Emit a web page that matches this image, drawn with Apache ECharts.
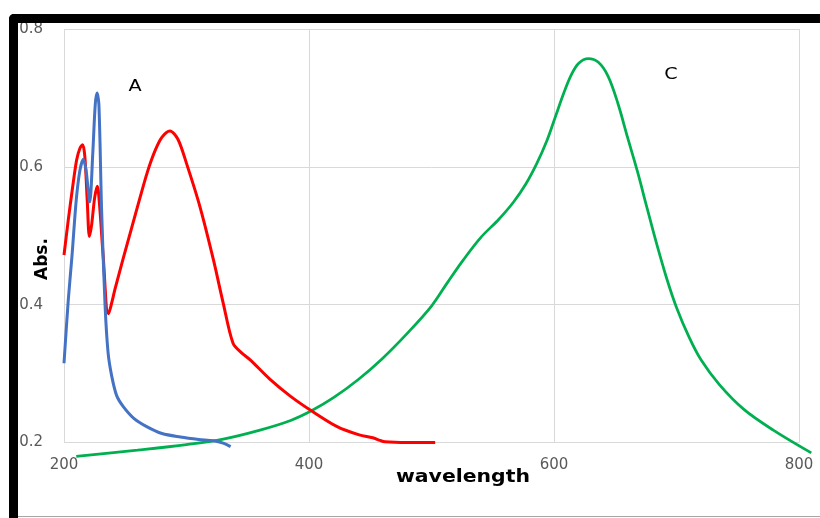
<!DOCTYPE html>
<html>
<head>
<meta charset="utf-8">
<script src="https://cdn.jsdelivr.net/npm/echarts@6/dist/echarts.min.js"></script>
<style>
html,body{margin:0;padding:0;background:#fff;}
#chart{width:820px;height:518px;}
</style>
</head>
<body>
<div id="chart"></div>
<script>
// Blue curve
const blueX = [200, 203.5, 206.5, 210, 213, 215.8, 218, 221, 223.5, 225.5, 227, 228.5, 230.7, 233.5, 236, 239, 243, 248.4, 257, 267.5, 280, 295, 310, 322, 330, 336];
const blueY = [0.315, 0.407, 0.47, 0.552, 0.595, 0.611, 0.595, 0.549, 0.62, 0.69, 0.707, 0.69, 0.537, 0.40, 0.33, 0.296, 0.268, 0.252, 0.235, 0.223, 0.213, 0.208, 0.2045, 0.2025, 0.199, 0.194];
// Red curve
const redX = [200, 203.5, 207, 210.3, 213, 215.2, 217, 219, 220.7, 222.5, 225, 227.2, 229, 232, 236.2, 242, 248, 255, 262, 268, 274, 280, 286.5, 293, 300, 311, 322, 330, 338, 345, 352, 368, 385, 402, 423, 441, 452, 458, 462, 480, 503];
const redY = [0.472, 0.523, 0.57, 0.610, 0.627, 0.632, 0.615, 0.55, 0.499, 0.515, 0.555, 0.572, 0.545, 0.47, 0.387, 0.425, 0.465, 0.51, 0.555, 0.592, 0.622, 0.643, 0.652, 0.64, 0.605, 0.542, 0.465, 0.402, 0.344, 0.330, 0.320, 0.292, 0.267, 0.246, 0.223, 0.211, 0.207, 0.203, 0.201, 0.200, 0.200];
// Green curve
const greenX = [210, 260, 300, 330, 360, 385, 402, 420, 440, 460, 480, 500, 513, 526, 540, 555, 567, 577, 586, 594, 601, 608, 614, 620, 628, 636, 644, 652, 660, 668, 676, 684, 692, 700, 710, 720, 735, 755, 779, 810];
const greenY = [0.180, 0.189, 0.197, 0.205, 0.218, 0.232, 0.246, 0.265, 0.291, 0.322, 0.358, 0.398, 0.432, 0.465, 0.497, 0.524, 0.549, 0.575, 0.605, 0.637, 0.672, 0.707, 0.733, 0.750, 0.757, 0.752, 0.732, 0.693, 0.643, 0.594, 0.540, 0.487, 0.438, 0.396, 0.354, 0.320, 0.284, 0.248, 0.218, 0.185];

const curveLabels = ['A', 'C'];
const xTitle = 'wavelength';
const yTitle = 'Abs.';

function zip(xs, ys) { return xs.map((x, i) => [x, ys[i]]); }

const chart = echarts.init(document.getElementById('chart'));
const labelStyle = { color: '#595959', fontFamily: 'DejaVu Sans', fontSize: 15 };
const hiddenAxis = { show: false, axisLine: { show: false }, axisTick: { show: false }, axisLabel: { show: false }, splitLine: { show: false } };
chart.setOption({
  animation: false,
  backgroundColor: '#ffffff',
  grid: [
    { left: 64, right: 21, top: 29, bottom: 75.5, containLabel: false },
    { left: 64, right: 8.75, top: 29, bottom: 75.5, containLabel: false }
  ],
  xAxis: [
    {
      type: 'value', gridIndex: 0, min: 200, max: 800, interval: 200,
      axisLine: { show: false }, axisTick: { show: false },
      axisLabel: Object.assign({ margin: 15 }, labelStyle),
      splitLine: { show: true, lineStyle: { color: '#D9D9D9', width: 1 } }
    },
    Object.assign({ type: 'value', gridIndex: 1, min: 200, max: 810 }, hiddenAxis)
  ],
  yAxis: [
    {
      type: 'value', gridIndex: 0, min: 0.2, max: 0.8, interval: 0.2,
      axisLine: { show: false }, axisTick: { show: false },
      axisLabel: Object.assign({ margin: 21, formatter: v => v.toFixed(1) }, labelStyle),
      splitLine: { show: true, lineStyle: { color: '#D9D9D9', width: 1 } }
    },
    Object.assign({ type: 'value', gridIndex: 1, min: 0.2, max: 0.8 }, hiddenAxis)
  ],
  series: [
    { type: 'line', xAxisIndex: 1, yAxisIndex: 1, data: zip(greenX, greenY), smooth: 0.35, showSymbol: false, clip: false,
      lineStyle: { color: '#00B050', width: 2.75 }, z: 2 },
    { type: 'line', data: zip(redX, redY), smooth: 0.3, showSymbol: false, clip: false,
      lineStyle: { color: '#FF0000', width: 3 }, z: 3 },
    { type: 'line', data: zip(blueX, blueY), smooth: 0.3, showSymbol: false, clip: false,
      lineStyle: { color: '#4472C4', width: 3 }, z: 4 }
  ],
  graphic: [
    { type: 'text', z: 10, x: 135, y: 87, scaleX: 1.2,
      style: { text: curveLabels[0], fill: '#000', font: '16px "DejaVu Sans"', textAlign: 'center', textVerticalAlign: 'middle' } },
    { type: 'text', z: 10, x: 671, y: 75, scaleX: 1.2,
      style: { text: curveLabels[1], fill: '#000', font: '16px "DejaVu Sans"', textAlign: 'center', textVerticalAlign: 'middle' } },
    { type: 'text', z: 10, x: 463, y: 478, scaleX: 1.2,
      style: { text: xTitle, fill: '#000', font: 'bold 17px "DejaVu Sans"', textAlign: 'center', textVerticalAlign: 'middle' } },
    { type: 'text', z: 10, x: 43, y: 259, rotation: Math.PI / 2,
      style: { text: yTitle, fill: '#000', font: 'bold 17px "DejaVu Sans"', textAlign: 'center', textVerticalAlign: 'middle' } },
    { type: 'rect', z: 100, shape: { x: 9, y: 14, width: 811, height: 9, r: [5, 0, 0, 0] }, style: { fill: '#000' } },
    { type: 'rect', z: 100, shape: { x: 9, y: 14, width: 9, height: 504, r: [5, 0, 0, 0] }, style: { fill: '#000' } },
    { type: 'line', z: 100, shape: { x1: 18, y1: 516.5, x2: 820, y2: 516.5 }, style: { stroke: '#A6A6A6', lineWidth: 1 } }
  ]
});
</script>
</body>
</html>
